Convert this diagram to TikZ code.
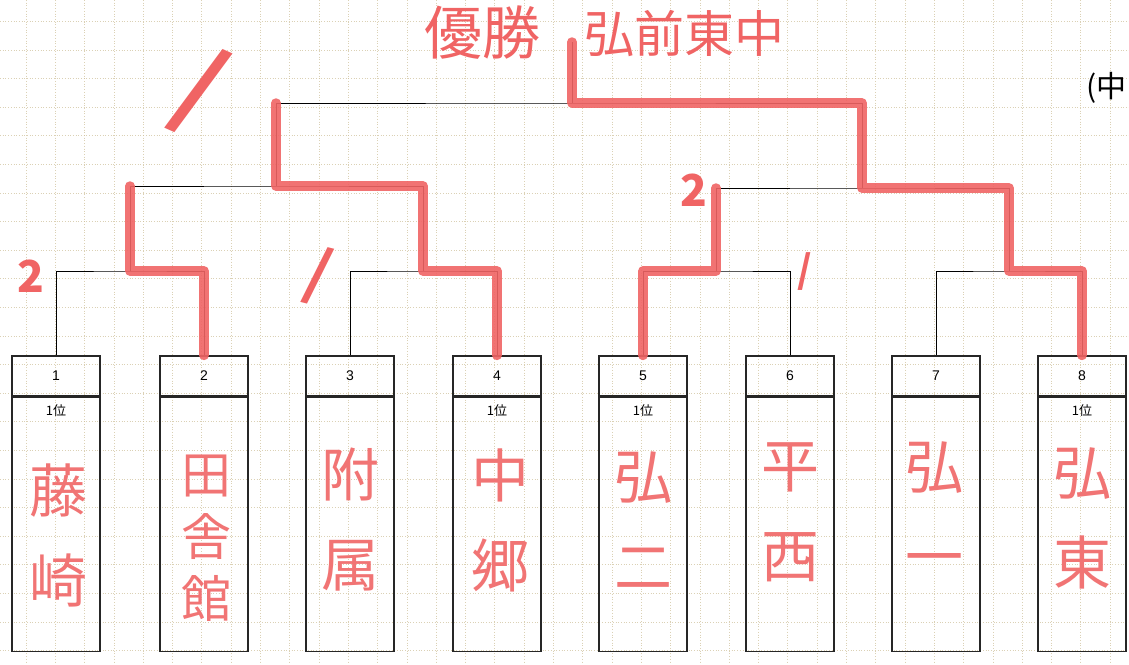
\documentclass[tikz,border=0pt]{standalone}
\usepackage{fontspec}
\setmainfont{Liberation Sans}
\newfontfamily\cjk{Noto Sans CJK JP}
\usetikzlibrary{positioning}
\pgfdeclarelayer{gridlayer}
\pgfdeclarelayer{edgelayer}
\pgfdeclarelayer{nodelayer}
\pgfsetlayers{gridlayer,edgelayer,nodelayer,main}
\definecolor{marker}{RGB}{240,100,100}
\definecolor{paper}{RGB}{205,190,150}
\tikzstyle{gridline}=[draw=paper,dotted,line width=0.7pt,opacity=0.7]
\tikzstyle{headbox}=[draw=black!85,line width=1.2pt,minimum width=88pt,minimum height=40pt,inner sep=0pt,font=\fontsize{14}{14}\selectfont]
\tikzstyle{bodybox}=[draw=black!85,line width=1.2pt,minimum width=88pt,minimum height=254pt,inner sep=0pt]
\tikzstyle{rank}=[inner sep=0pt,font=\cjk\fontsize{13}{13}\selectfont]
\tikzstyle{school}=[text=marker!90,align=center,inner sep=0pt,font=\cjk\fontsize{58}{90}\selectfont]
\tikzstyle{bracket}=[draw=black,line width=1pt]
\tikzstyle{winner}=[draw=marker,opacity=0.9,line width=9.5pt,line cap=round,line join=round]
\tikzstyle{score}=[text=marker,inner sep=0pt,font=\cjk\bfseries\fontsize{44}{44}\selectfont]

\begin{document}
\begin{tikzpicture}[x=1pt,y=-1pt]
	\useasboundingbox (0,0) rectangle (1129,664);
	\begin{pgfonlayer}{gridlayer}
		% graph paper
		\fill [white] (0,0) rectangle (1129,664);
		\foreach \gy in {0,...,22}
			\draw [style=gridline] (0,21.3+28.6*\gy) -- (1129,21.3+28.6*\gy);
		\foreach \gx in {0,...,38}
			\draw [style=gridline] (26+29.3*\gx,0) -- (26+29.3*\gx,664);
	\end{pgfonlayer}
	\begin{pgfonlayer}{nodelayer}
		\node [style=headbox] (h1) at (56, 376) {1};
		\node [style=headbox] (h2) at (204, 376) {2};
		\node [style=headbox] (h3) at (350, 376) {3};
		\node [style=headbox] (h4) at (497, 376) {4};
		\node [style=headbox] (h5) at (643, 376) {5};
		\node [style=headbox] (h6) at (790, 376) {6};
		\node [style=headbox] (h7) at (936, 376) {7};
		\node [style=headbox] (h8) at (1082, 376) {8};
		\node [style=bodybox, below=0pt of h1] (b1) {};
		\node [style=bodybox, below=0pt of h2] (b2) {};
		\node [style=bodybox, below=0pt of h3] (b3) {};
		\node [style=bodybox, below=0pt of h4] (b4) {};
		\node [style=bodybox, below=0pt of h5] (b5) {};
		\node [style=bodybox, below=0pt of h6] (b6) {};
		\node [style=bodybox, below=0pt of h7] (b7) {};
		\node [style=bodybox, below=0pt of h8] (b8) {};
		\node [style=rank, below=8pt of h1] (r1) {1位};
		\node [style=rank, below=8pt of h4] (r4) {1位};
		\node [style=rank, below=8pt of h5] (r5) {1位};
		\node [style=rank, below=8pt of h8] (r8) {1位};
		\node [style=school] (s1) at (58, 535) {藤\\崎};
		\node [style=school, font=\cjk\fontsize{50}{62}\selectfont] (s2) at (206, 538) {田\\舎\\館};
		\node [style=school] (s3) at (350, 520) {附\\属};
		\node [style=school] (s4) at (500, 520) {中\\郷};
		\node [style=school] (s5) at (643, 520) {弘\\二};
		\node [style=school] (s6) at (790, 512) {平\\西};
		\node [style=school] (s7) at (934, 510) {弘\\一};
		\node [style=school] (s8) at (1082, 518) {弘\\東};
	\end{pgfonlayer}
	\coordinate (j12) at (130, 271);
	\coordinate (j34) at (423, 271);
	\coordinate (j56) at (716, 271);
	\coordinate (j78) at (1009, 271);
	\coordinate (j14) at (276, 186);
	\coordinate (j58) at (862, 188);
	\coordinate (fin) at (572, 103);
	\coordinate (top) at (572, 42);
	\begin{pgfonlayer}{edgelayer}
		\draw [style=bracket] (h1.north) |- (j12) -| (h2.north);
		\draw [style=bracket] (h3.north) |- (j34) -| (h4.north);
		\draw [style=bracket] (h5.north) |- (j56) -| (h6.north);
		\draw [style=bracket] (h7.north) |- (j78) -| (h8.north);
		\draw [style=bracket] (j12) |- (j14) -| (j34);
		\draw [style=bracket] (j56) |- (j58) -| (j78);
		\draw [style=bracket] (j14) |- (fin) -| (j58);
		\draw [style=bracket] (fin) -- (top);
	\end{pgfonlayer}
	% red marker over the winners
	\draw [style=winner] (h2.north) |- (j12) -- (j12 |- j14);
	\draw [style=winner] (h4.north) |- (j34) |- (j14) -- (j14 |- fin);
	\draw [style=winner] (h5.north) |- (j56) -- (j56 |- j58);
	\draw [style=winner] (h8.north) |- (j78) |- (j58) |- (fin) -- (top);
	% scores and title
	\node [style=score, font=\cjk\bfseries\fontsize{96}{96}\selectfont, rotate=-24] (c1) at (200, 91) {/};
	\node [style=score] (c2) at (31, 276) {2};
	\node [style=score, font=\cjk\bfseries\fontsize{60}{60}\selectfont, rotate=-14] (c3) at (318, 276) {/};
	\node [style=score] (c4) at (694, 190) {2};
	\node [style=score, font=\cjk\bfseries\fontsize{38}{38}\selectfont] (c5) at (805, 272) {/};
	\node [text=marker, inner sep=0pt, font=\cjk\fontsize{58}{58}\selectfont] (title) at (482, 33) {優勝};
	\node [text=marker, inner sep=0pt, font=\cjk\fontsize{50}{50}\selectfont, right=44pt of title] (champ) {弘前東中};
	\node [anchor=east, inner sep=0pt, font=\cjk\fontsize{30}{30}\selectfont] (note) at (1127, 88) {(中};
\end{tikzpicture}
\end{document}
